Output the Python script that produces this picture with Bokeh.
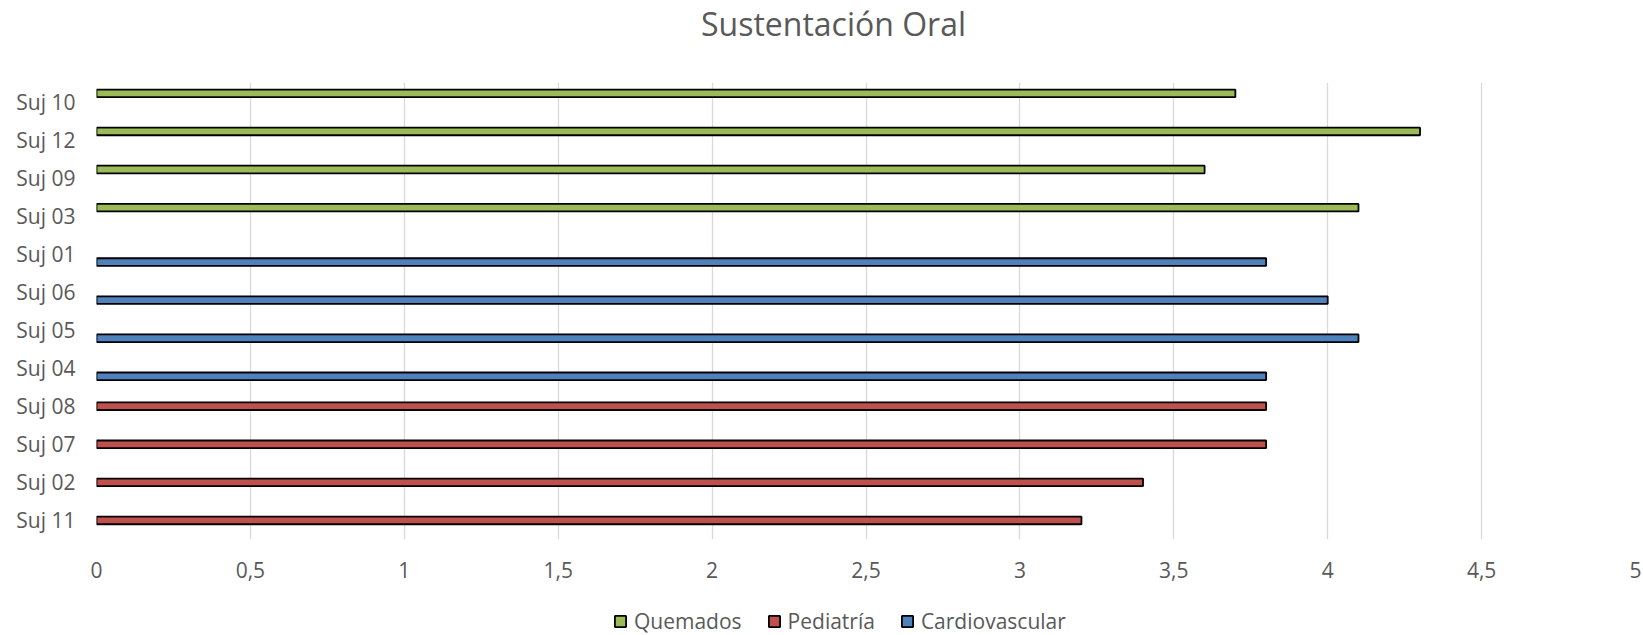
from bokeh.plotting import figure
from bokeh.layouts import column
from bokeh.models import (ColumnDataSource, FactorRange, Range1d, FixedTicker, Legend,
                          LegendItem, Label)
from bokeh.transform import dodge
from bokeh.embed import file_html
from bokeh.resources import INLINE

# ---- data ----
subjects = ["Suj 11", "Suj 02", "Suj 07", "Suj 08", "Suj 04", "Suj 05",
            "Suj 06", "Suj 01", "Suj 03", "Suj 09", "Suj 12", "Suj 10"]

quemados_subj = ["Suj 03", "Suj 09", "Suj 12", "Suj 10"]
quemados_vals = [4.1, 3.6, 4.3, 3.7]

pediatria_subj = ["Suj 11", "Suj 02", "Suj 07", "Suj 08"]
pediatria_vals = [3.2, 3.4, 3.8, 3.8]

cardio_subj = ["Suj 04", "Suj 05", "Suj 06", "Suj 01"]
cardio_vals = [3.8, 4.1, 4.0, 3.8]

series_names = ["Quemados", "Pediatría", "Cardiovascular"]
series_colors = ["#9BBB59", "#C0504D", "#4F81BD"]

x_ticks = [0, 0.5, 1, 1.5, 2, 2.5, 3, 3.5, 4, 4.5, 5]
x_tick_labels = ["0", "0,5", "1", "1,5", "2", "2,5", "3", "3,5", "4", "4,5", "5"]

title_text = "Sustentación Oral"

FONT = "Open Sans"
TXT = "#595959"


def strip(height, y_range):
    f = figure(width=1643, height=height, output_backend="svg", toolbar_location=None,
               x_range=Range1d(0, 1), y_range=y_range,
               x_axis_location=None, y_axis_location=None,
               min_border_left=0, min_border_right=0, min_border_top=0, min_border_bottom=0)
    f.outline_line_color = None
    f.grid.visible = False
    f.background_fill_color = "white"
    f.border_fill_color = "white"
    return f


# ---- title strip ----
tf = strip(82, Range1d(0, 1))
tf.add_layout(Label(x=737, y=59, x_units="screen", y_units="screen", text=title_text,
                    text_align="center", text_baseline="middle", text_font=FONT,
                    text_font_size="32px", text_color=TXT))

# ---- main chart ----
p = figure(width=1643, height=518, output_backend="svg", toolbar_location=None,
           y_range=FactorRange(*subjects), x_range=Range1d(0, 5),
           min_border_left=96, min_border_right=8, min_border_top=0, min_border_bottom=61)

offsets = [0.215, 0.0, -0.215]
data = [(quemados_subj, quemados_vals), (pediatria_subj, pediatria_vals), (cardio_subj, cardio_vals)]
sources = []
for (subj, vals), color, off in zip(data, series_colors, offsets):
    src = ColumnDataSource(dict(subject=subj, value=vals))
    sources.append(src)
    p.hbar(y=dodge("subject", off, range=p.y_range), left=0, right="value",
           height=0.2, source=src, fill_color=color,
           line_color="black", line_width=1.8)

p.outline_line_color = None
p.background_fill_color = "white"
p.border_fill_color = "white"

p.ygrid.grid_line_color = None
p.xgrid.grid_line_color = "#D9D9D9"
p.xgrid.grid_line_width = 1.3

p.xaxis.ticker = FixedTicker(ticks=x_ticks)
p.xaxis.major_label_overrides = {t: l for t, l in zip(x_ticks, x_tick_labels)}
for ax in (p.xaxis[0], p.yaxis[0]):
    ax.axis_line_color = None
    ax.major_tick_line_color = None
    ax.minor_tick_line_color = None
    ax.major_label_text_font = FONT
    ax.major_label_text_font_size = "21px"
    ax.major_label_text_color = TXT
p.xaxis.major_label_standoff = 16
p.yaxis.major_label_standoff = 15

# ---- legend strip ----
lg = strip(35, FactorRange(*subjects))
items = []
for name, color, src in zip(series_names, series_colors, sources):
    r = lg.hbar(y="subject", left=0, right="value", height=0.2, source=src,
                fill_color=color, line_color="black", line_width=1.8, visible=False)
    items.append(LegendItem(label=name, renderers=[r]))

legend = Legend(items=items, orientation="horizontal", location=(517, 0),
                label_text_font=FONT, label_text_font_size="21px",
                label_text_color=TXT, glyph_width=14, glyph_height=14,
                label_standoff=7, spacing=25, padding=0, margin=0,
                inactive_fill_alpha=0,
                border_line_color=None, background_fill_alpha=0)
lg.add_layout(legend, "center")

layout = column(tf, p, lg, spacing=0)
open("out.html", "w").write(file_html(layout, INLINE))
